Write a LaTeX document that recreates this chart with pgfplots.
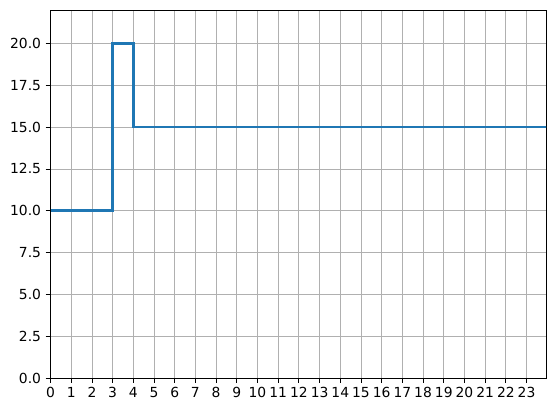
\documentclass[border=0pt]{standalone}
\usepackage{pgfplots}
\pgfplotsset{compat=1.18}
\usepackage{fontspec}
\setmainfont{DejaVu Sans}
\definecolor{mplblue}{HTML}{1F77B4}
\definecolor{gridgray}{HTML}{B0B0B0}
\begin{document}
\begin{tikzpicture}[x=0.75pt,y=0.75pt]
  \begin{axis}[
    name=ax,
    scale only axis,
    width=371.6pt,
    height=276pt,
    xmin=0, xmax=23.94,
    ymin=0, ymax=22,
    xtick={0,1,...,23},
    ytick={0,2.5,...,20},
    yticklabel style={/pgf/number format/.cd,fixed,fixed zerofill,precision=1},
    /pgf/number format/assume math mode=true,
    ticklabel style={font=\fontsize{10.4}{12}\selectfont},
    grid=major,
    major grid style={gridgray, line width=0.6pt},
    axis line style={black, line width=0.6pt},
    tick style={black, line width=0.6pt},
    tick align=outside,
    major tick length=3.6pt,
    xtick pos=bottom, ytick pos=left,
    clip=true,
  ]
    \addplot[const plot, mplblue, line width=1.9pt] coordinates {
      (0,10) (3,20) (4,15) (24,15)
    };
  \end{axis}
  \useasboundingbox ([xshift=-37.9pt,yshift=-26pt]ax.south west) rectangle ([xshift=7.5pt,yshift=7.5pt]ax.north east);
\end{tikzpicture}
\end{document}
